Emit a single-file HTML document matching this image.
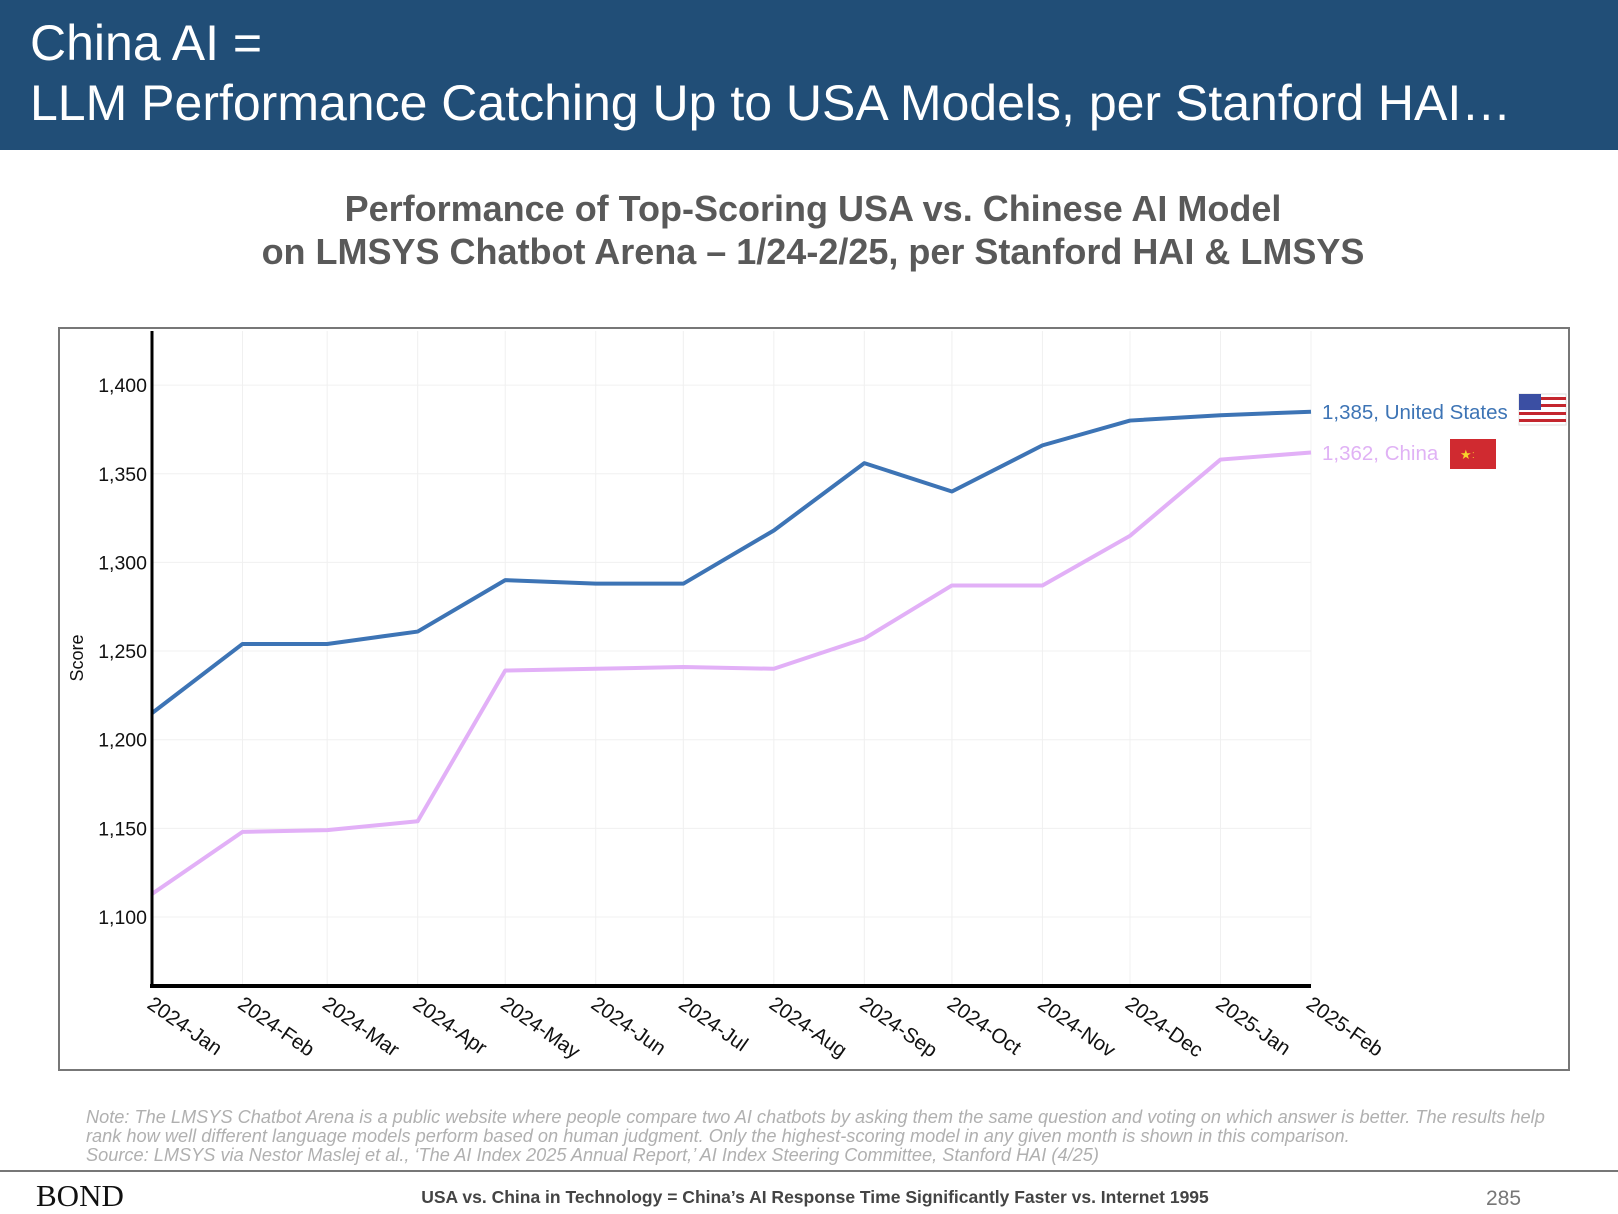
<!DOCTYPE html>
<html><head><meta charset="utf-8"><style>
body{margin:0;width:1618px;height:1214px;background:#fff;font-family:"Liberation Sans",sans-serif;overflow:hidden;position:relative}
.hdr{position:absolute;left:0;top:0;width:1618px;height:150px;background:#214e77}
.hdr div{position:absolute;left:30px;color:#fff;font-size:50px;white-space:nowrap}
</style></head><body>
<div class="hdr">
<div style="top:14px">China AI =</div>
<div style="top:74px">LLM Performance Catching Up to USA Models, per Stanford HAI…</div>
</div>
<svg width="1618" height="1214" style="position:absolute;left:0;top:0">
<text x="813" y="221" text-anchor="middle" font-size="36" font-weight="bold" fill="#595959">Performance of Top-Scoring USA vs. Chinese AI Model</text>
<text x="813" y="264" text-anchor="middle" font-size="36" font-weight="bold" fill="#595959">on LMSYS Chatbot Arena – 1/24-2/25, per Stanford HAI &amp; LMSYS</text>
<rect x="59" y="328" width="1510" height="742" fill="none" stroke="#777" stroke-width="2"/>
<g id="grid"></g><g id="lines"></g><g id="axes"></g>
<text transform="translate(83,658) rotate(-90)" text-anchor="middle" font-size="18" fill="#111">Score</text>
<text x="1322" y="419" font-size="20.5" fill="#3d74b5">1,385, United States</text>
<text x="1322" y="460" font-size="20.5" fill="#e0b2f5">1,362, China</text>
<g>
<rect x="1519" y="394" width="47" height="31" fill="#fff" stroke="#ddd"/>
<rect x="1519" y="397" width="47" height="3" fill="#c4262e"/><rect x="1519" y="404" width="47" height="3" fill="#c4262e"/><rect x="1519" y="412" width="47" height="3" fill="#c4262e"/><rect x="1519" y="419" width="47" height="3" fill="#c4262e"/>
<rect x="1519" y="394" width="22" height="16" fill="#3b4fa3"/></g>
<g>
<rect x="1450" y="439" width="46" height="30" fill="#d02a30"/>
<text x="1460" y="459" font-size="13" fill="#f7d42b">★</text><text x="1472" y="458" font-size="8" fill="#f7d42b">⁚</text></g>
<text x="86" y="1123" font-size="18.2" font-style="italic" fill="#b0b0b0">Note: The LMSYS Chatbot Arena is a public website where people compare two AI chatbots by asking them the same question and voting on which answer is better. The results help</text>
<text x="86" y="1142" font-size="18.2" font-style="italic" fill="#b0b0b0">rank how well different language models perform based on human judgment. Only the highest-scoring model in any given month is shown in this comparison.</text>
<text x="86" y="1161" font-size="18.2" font-style="italic" fill="#b0b0b0">Source: LMSYS via Nestor Maslej et al., ‘The AI Index 2025 Annual Report,’ AI Index Steering Committee, Stanford HAI (4/25)</text>
<line x1="0" y1="1171" x2="1618" y2="1171" stroke="#777" stroke-width="2"/>
<text x="36" y="1206" font-size="31" font-family="Liberation Serif,serif" fill="#111">BOND</text>
<text x="815" y="1203" text-anchor="middle" font-size="17.5" font-weight="bold" fill="#444">USA vs. China in Technology = China’s AI Response Time Significantly Faster vs. Internet 1995</text>
<text x="1486" y="1205" font-size="21" fill="#777">285</text>
</svg>
<script>
const months=["2024-Jan","2024-Feb","2024-Mar","2024-Apr","2024-May","2024-Jun","2024-Jul","2024-Aug","2024-Sep","2024-Oct","2024-Nov","2024-Dec","2025-Jan","2025-Feb"];
const usaScores=[1215,1254,1254,1261,1290,1288,1288,1318,1356,1340,1366,1380,1383,1385];
const chinaScores=[1113,1148,1149,1154,1239,1240,1241,1240,1257,1287,1287,1315,1358,1362];
const yTicks=[1100,1150,1200,1250,1300,1350,1400];
const yTickLabels=["1,100","1,150","1,200","1,250","1,300","1,350","1,400"];
const NS="http://www.w3.org/2000/svg";
const dim=[31,29,31,30,31,30,31,31,30,31,30,31,31];
const dayOff=[0];for(let i=0;i<dim.length;i++)dayOff.push(dayOff[i]+dim[i]);
const x0=152,x1=1311,totalDays=dayOff[dayOff.length-1];
function xs(i){return x0+dayOff[i]*(x1-x0)/totalDays;}
function ys(v){return 917-(v-1100)*1.773;}
function mk(tag,attrs,parent){const e=document.createElementNS(NS,tag);for(const k in attrs)e.setAttribute(k,attrs[k]);document.getElementById(parent).appendChild(e);return e;}
months.forEach((m,i)=>{
 const g=mk('line',{x1:xs(i),x2:xs(i),y1:331,y2:986,stroke:'#f0f0f0','stroke-width':1},'grid');
 
 
 const t=mk('text',{x:0,y:0,'font-size':20.5,fill:'#111',transform:`translate(${xs(i)-6},${1007}) rotate(35)`},'axes');
 t.textContent=m;
 
 
});
yTicks.forEach((v,i)=>{
 const g=mk('line',{x1:152,x2:1311,y1:ys(v),y2:ys(v),stroke:'#f0f0f0','stroke-width':1},'grid');
 
 
 const t=mk('text',{x:147,y:ys(v)+7,'font-size':19.5,fill:'#111','text-anchor':'end'},'axes');
 t.textContent=yTickLabels[i];
 
 
});
const ya=mk('line',{x1:152,x2:152,y1:331,y2:988,stroke:'#000','stroke-width':3},'axes');


const xa=mk('line',{x1:150,x2:1311,y1:986,y2:986,stroke:'#000','stroke-width':4},'axes');


function line(arr,color,name){
 const p=mk('polyline',{points:arr.map((v,i)=>xs(i)+','+ys(v)).join(' '),fill:'none',stroke:color,'stroke-width':4,'stroke-linejoin':'round'},'lines');
 
 
}
line(chinaScores,'#e2b0f7','china-line');
line(usaScores,'#3d74b5','usa-line');
</script>
</body></html>
